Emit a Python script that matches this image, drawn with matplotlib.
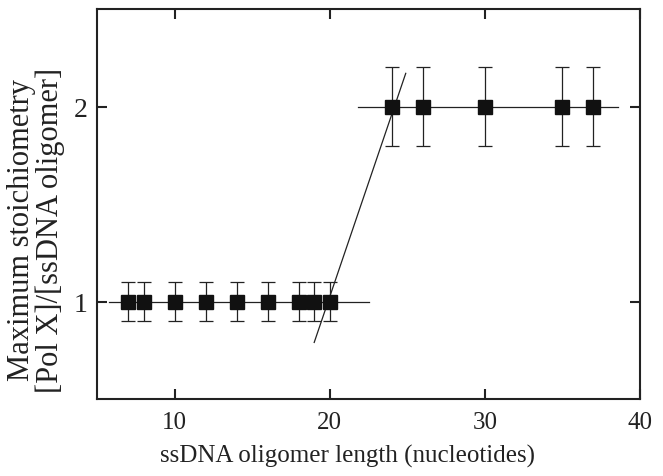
import matplotlib.pyplot as plt
import numpy as np

# Oligomer lengths and maximum stoichiometry
x_low = [7, 8, 10, 12, 14, 16, 18, 19, 20]
y_low = [1, 1, 1, 1, 1, 1, 1, 1, 1]
err_low = [0.1] * len(x_low)

x_high = [24, 26, 30, 35, 37]
y_high = [2, 2, 2, 2, 2]
err_high = [0.2] * len(x_high)

# fitted lines (endpoints)
plateau_low_x = [5.8, 22.5]
plateau_low_y = [1, 1]
plateau_high_x = [21.8, 38.6]
plateau_high_y = [2, 2]
rise_x = [19.0, 24.9]
rise_y = [0.79, 2.17]

plt.rcParams['font.family'] = ['Liberation Serif', 'DejaVu Serif']

fig = plt.figure(figsize=(6.63, 4.77), dpi=100)
ax = fig.add_axes([97 / 663, 1 - 400 / 477, 543 / 663, 390 / 477])

ax.plot(plateau_low_x, plateau_low_y, color='#222222', lw=0.9)
ax.plot(plateau_high_x, plateau_high_y, color='#222222', lw=0.9)
ax.plot(rise_x, rise_y, color='#222222', lw=0.9)

ax.errorbar(x_low, y_low, yerr=err_low, fmt='s', color='#111111', ms=9.8,
            ecolor='#222222', elinewidth=0.9, capsize=5, capthick=0.9)
ax.errorbar(x_high, y_high, yerr=err_high, fmt='s', color='#111111', ms=9.8,
            ecolor='#222222', elinewidth=0.9, capsize=5, capthick=0.9)

ax.set_xlim(5, 40)
ax.set_ylim(0.5, 2.5)
ax.set_xticks([10, 20, 30, 40])
ax.set_yticks([1, 2])
ax.tick_params(direction='in', length=7, width=1.5, top=True, right=True,
               colors='#222222')
ax.tick_params(axis='x', labelsize=18, pad=9)
ax.tick_params(axis='y', labelsize=20, pad=7)
for s in ax.spines.values():
    s.set_linewidth(1.5)
    s.set_color('#222222')

fig.text(348 / 663, 1 - 456 / 477, 'ssDNA oligomer length (nucleotides)',
         fontsize=18, color='#222222', ha='center', va='center')
fig.text(36 / 663, 1 - 230 / 477, 'Maximum stoichiometry\n[Pol X]/[ssDNA oligomer]',
         fontsize=22, color='#222222', ha='center', va='center', rotation=90,
         multialignment='center', linespacing=1.0)

fig.savefig('out.png', dpi=100)
